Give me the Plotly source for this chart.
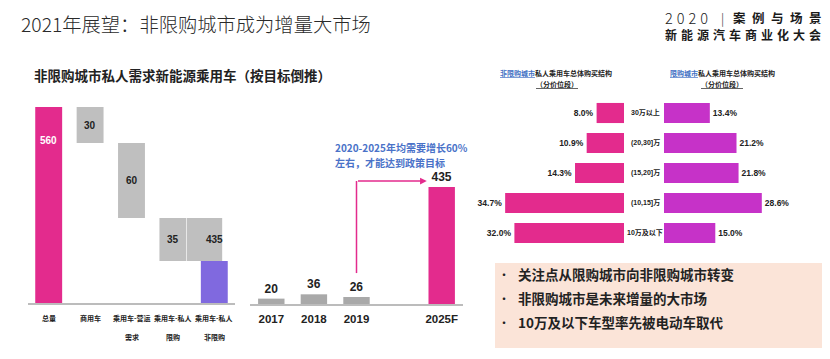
import plotly.graph_objects as go

# ---------------- data ----------------
title_text = "2021年展望：非限购城市成为增量大市场"
subtitle_text = "非限购城市私人需求新能源乘用车（按目标倒推）"

# waterfall (drawn not to scale in the original; step heights as drawn, in units of the 560 total)
wf_line1 = ["总量", "商用车", "乘用车-营运", "乘用车-私人", "乘用车-私人"]
wf_line2 = ["", "", "需求", "限购", "非限购"]
wf_values = [560, 30, 60, 35, 435]
wf_total_drawn = 560
wf_steps_drawn = [103, 214, 123]   # 商用车, 营运, 限购 as drawn

# yearly sales
years = ["2017", "2018", "2019", "2025F"]
year_slots = [0, 1, 2, 4]
year_sales = [20, 36, 26, 435]

# price-band structure
bands = ["30万以上", "(20,30]万", "(15,20]万", "(10,15]万", "10万及以下"]
nonrestricted_share = [8.0, 10.9, 14.3, 34.7, 32.0]
restricted_share = [13.4, 21.2, 21.8, 28.6, 15.0]

bullets = ["关注点从限购城市向非限购城市转变", "非限购城市是未来增量的大市场", "10万及以下车型率先被电动车取代"]

# ---------------- styles ----------------
OX, OY = 8, 8            # page body margin
W, H = 830 - OX, 359 - OY
PINK = "#e32b8d"
PURPLE = "#8069df"
MAGENTA = "#c632c8"
GRAY_WF = "#bfbfbf"
GRAY_YR = "#a9a9a9"
BLUE = "#4a72c8"
CJK = "Noto Sans CJK SC"
NUM = "Liberation Sans Narrow, Liberation Sans, Noto Sans CJK SC"
DARK = "#222222"


def px(x):
    return (x - OX) / W


def py(y):
    return 1 - (y - OY) / H


fig = go.Figure()

# ---- waterfall ----
wf_bases = [0]
wf_heights = [wf_total_drawn]
top = wf_total_drawn
for s in wf_steps_drawn:
    wf_bases.append(top - s)
    wf_heights.append(s)
    top = top - s
remainder = top
wf_bases.append(0)
wf_heights.append(remainder)
wf_colors = [PINK, GRAY_WF, GRAY_WF, GRAY_WF, PURPLE]
idx = list(range(len(wf_line1)))

fig.add_trace(go.Bar(x=idx, y=wf_heights, base=wf_bases, marker=dict(color=wf_colors, line=dict(width=0)),
                     width=0.65, xaxis="x", yaxis="y", showlegend=False, hoverinfo="skip"))
# gray label block above the purple remainder
fig.add_trace(go.Bar(x=[4], y=[wf_steps_drawn[-1]], base=[remainder], marker=dict(color=GRAY_WF, line=dict(width=0)),
                     width=0.85, offset=-0.66, xaxis="x", yaxis="y", showlegend=False, hoverinfo="skip"))

# ---- yearly ----
fig.add_trace(go.Bar(x=year_slots, y=year_sales, marker=dict(color=[GRAY_YR, GRAY_YR, GRAY_YR, PINK], line=dict(width=0)),
                     width=0.62, text=[str(v) for v in year_sales], textposition="outside",
                     textfont=dict(family=NUM, size=12, color=DARK, weight="bold"), cliponaxis=False,
                     xaxis="x2", yaxis="y2", showlegend=False, hoverinfo="skip"))

# ---- butterfly ----
bidx = list(range(len(bands)))
fig.add_trace(go.Bar(y=bidx, x=nonrestricted_share, orientation="h", marker=dict(color=PINK, line=dict(width=0)),
                     width=0.67, text=[f"{v:.1f}%" for v in nonrestricted_share], textposition="outside",
                     textfont=dict(family=NUM, size=8.5, color=DARK, weight="bold"), cliponaxis=False,
                     xaxis="x3", yaxis="y3", showlegend=False, hoverinfo="skip"))
fig.add_trace(go.Bar(y=bidx, x=restricted_share, orientation="h", marker=dict(color=MAGENTA, line=dict(width=0)),
                     width=0.67, text=[f"{v:.1f}%" for v in restricted_share], textposition="outside",
                     textfont=dict(family=NUM, size=8.5, color=DARK, weight="bold"), cliponaxis=False,
                     xaxis="x4", yaxis="y4", showlegend=False, hoverinfo="skip"))

hidden = dict(visible=False, showgrid=False, zeroline=False, fixedrange=True)

fig.update_layout(
    width=W, height=H, margin=dict(l=0, r=0, t=0, b=0),
    paper_bgcolor="white", plot_bgcolor="rgba(0,0,0,0)",
    barmode="overlay",
    xaxis=dict(domain=[px(28), px(235)], range=[-0.5, 4.5], showline=True, linecolor="#bcbcbc", linewidth=1.5,
               showticklabels=False, showgrid=False, zeroline=False, ticks="", anchor="y"),
    yaxis=dict(domain=[py(303), py(107)], range=[0, wf_total_drawn], anchor="x", **hidden),
    xaxis2=dict(domain=[px(250), px(463)], range=[-0.5, 4.5], showline=True, linecolor="#bcbcbc", linewidth=1.5,
                tickvals=year_slots, ticktext=years, ticks="", showgrid=False, zeroline=False,
                tickfont=dict(family=NUM, size=11.5, color=DARK, weight="bold"), ticklabelstandoff=3, anchor="y2"),
    yaxis2=dict(domain=[py(304), py(304 - 500 * 0.269)], range=[0, 500], anchor="x2", **hidden),
    xaxis3=dict(domain=[px(487), px(624)], range=[40, 0], anchor="y3", **hidden),
    yaxis3=dict(domain=[py(248), py(98)], range=[4.5, -0.5], anchor="x3", **hidden),
    xaxis4=dict(domain=[px(664), px(800.8)], range=[0, 40], anchor="y4", **hidden),
    yaxis4=dict(domain=[py(248), py(98)], range=[4.5, -0.5], anchor="x4", **hidden),
)

ann = []


def note(text, x, y, size, color=DARK, family=CJK, weight="bold", xanchor="center", xref="paper", yref="paper"):
    ann.append(dict(text=text, x=x, y=y, xref=xref, yref=yref, xanchor=xanchor, yanchor="middle",
                    showarrow=False, font=dict(family=family, size=size, color=color, weight=weight)))


# title
note(title_text, px(19), py(24), 19.3, color="#2a2a2a", weight=300, xanchor="left")
# logo
note("<span style='letter-spacing:4px'>2020</span>", px(663), py(17.5), 14.5, color="#1a1a1a", weight=300, xanchor="left")
note("|", px(722), py(17.5), 12.5, color="#1a1a1a", weight=300)
note("<span style='letter-spacing:6.5px'>案例与场景</span>", px(830), py(17.5), 12.5, color="#1a1a1a", xanchor="right")
note("<span style='letter-spacing:4px'>新能源汽车商业化大会</span>", px(663), py(34), 12, color="#1a1a1a", xanchor="left")
# subtitle
note(subtitle_text, px(32), py(75), 13.5, xanchor="left")

# waterfall value labels
note(str(wf_values[0]), 0, wf_total_drawn - 33 * wf_total_drawn / 196, 10, color="white", family=NUM, xref="x", yref="y")
for i in range(1, 4):
    note(str(wf_values[i]), i, wf_bases[i] + wf_heights[i] / 2, 10, family=NUM, xref="x", yref="y")
note(str(wf_values[4]), 4, remainder + wf_steps_drawn[-1] / 2, 10, family=NUM, xref="x", yref="y")
# waterfall category labels
for i in idx:
    note(wf_line1[i], i, py(318), 7, xref="x")
    if wf_line2[i]:
        note(wf_line2[i], i, py(337), 7, xref="x")

# growth note + arrow
note("2020-2025年均需要增长60%", px(333), py(147), 10, color=BLUE, xanchor="left")
note("左右，才能达到政策目标", px(333), py(162), 10, color=BLUE, xanchor="left")
ann.append(dict(text="", x=3.65, y=457, ax=2, ay=457, xref="x2", yref="y2", axref="x2", ayref="y2",
                showarrow=True, arrowhead=2, arrowsize=0.9, arrowwidth=1.5, arrowcolor=PINK, standoff=0, startstandoff=0))

# butterfly headers
note("<span style='color:#4472c4;text-decoration:underline'>非限购城市</span>私人乘用车总体购买结构", px(556), py(73), 7)
note("<span style='text-decoration:underline'>（分价位段）</span>", px(557), py(84), 7)
note("<span style='color:#4472c4;text-decoration:underline'>限购城市</span>私人乘用车总体购买结构", px(722), py(73), 7)
note("<span style='text-decoration:underline'>（分价位段）</span>", px(722), py(84), 7)
for i, b in enumerate(bands):
    note(b, px(645), i, 7, family=NUM, yref="y3")

# bullets
for k, t in enumerate(bullets):
    yy = py(274 + 24 * k)
    note("•", px(504), yy, 12, weight="normal")
    note(t, px(516), yy, 13.5, xanchor="left")

fig.update_layout(annotations=ann)

fig.update_layout(shapes=[
    dict(type="rect", xref="paper", yref="paper", x0=px(495), x1=1, y0=py(348), y1=py(263),
         fillcolor="#fbe4d8", line=dict(width=0), layer="below"),
    dict(type="line", xref="x2", yref="y2", x0=2, x1=2, y0=115, y1=457, line=dict(color=PINK, width=1.5)),
])

fig.write_html("out.html")
